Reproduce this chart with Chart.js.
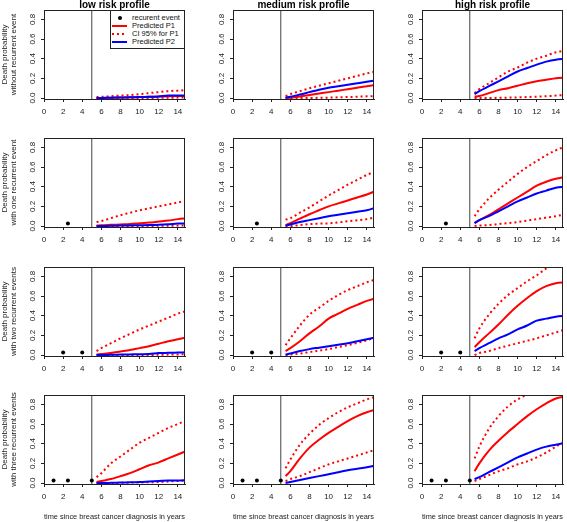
<!DOCTYPE html>
<html>
<head>
<meta charset="utf-8">
<script src="https://cdn.jsdelivr.net/npm/chart.js@4.4.1/dist/chart.umd.min.js"></script>
<style>
  html, body { margin: 0; padding: 0; background: #fff; }
  #fig { position: relative; width: 567px; height: 522px; overflow: hidden;
         font-family: "Liberation Sans", Arial, sans-serif; }
  #fig canvas { position: absolute; }
  .legend { position: absolute; left: 110px; top: 10px; width: 75px; height: 39px;
            box-sizing: border-box; border: 1px solid #222; background: #fff;
            padding-top: 3px; font-size: 7.5px; color: #111; }
  .legend .item { height: 8px; line-height: 8px; display: flex; align-items: center; white-space: nowrap; }
  .legend .sym { width: 15px; height: 8px; margin-left: 1px; margin-right: 5px; position: relative; }
  .sym .ln { position: absolute; left: 0; right: 0; top: 3px; height: 2px; }
  .sym .dot { position: absolute; left: 5.5px; top: 2px; width: 4px; height: 4px; border-radius: 50%; background: #000; }
</style>
</head>
<body>
<div id="fig">
  <div class="legend">
    <div class="item"><span class="sym"><span class="dot"></span></span>recurent event</div>
    <div class="item"><span class="sym"><span class="ln" style="background:red"></span></span>Predicted P1</div>
    <div class="item"><span class="sym"><span class="ln" style="background:repeating-linear-gradient(90deg,red 0 2px,transparent 2px 5px)"></span></span>CI 95% for P1</div>
    <div class="item"><span class="sym"><span class="ln" style="background:blue"></span></span>Predicted P2</div>
  </div>
</div>
<script>
// ---- data ----
const TIME = [5.5, 6, 7, 8, 9, 10, 11, 12, 13, 14, 15];
const X_TICKS = [0, 2, 4, 6, 8, 10, 12, 14];
const Y_TICKS = [0, 0.2, 0.4, 0.6, 0.8];
const PROFILES = ["low risk profile", "medium risk profile", "high risk profile"];
const ROW_LABELS = [
  ["Death probability", "without recurrent event"],
  ["Death probability", "with one recurrent event"],
  ["Death probability", "with two recurrent events"],
  ["Death probability", "with three recurrent events"],
];
const X_TITLE = "time since breast cancer diagnosis in years";
const EVENT_TIMES = [[], [2.5], [2, 4], [1, 2.5, 5]];
const EVENT_Y = 0.025;
const LANDMARK = 5;

// rows: no / one / two / three recurrent events
const P1_LOW = [
  [0, 0, 0.003, 0.005, 0.007, 0.01, 0.012, 0.015, 0.017, 0.02, 0.02],
  [0.005, 0.008, 0.012, 0.016, 0.02, 0.028, 0.035, 0.045, 0.055, 0.07, 0.08],
  [0.005, 0.01, 0.02, 0.035, 0.05, 0.07, 0.09, 0.115, 0.14, 0.16, 0.18],
  [0.01, 0.02, 0.04, 0.07, 0.1, 0.14, 0.18, 0.21, 0.25, 0.29, 0.33],
];
const P2_LOW = [
  [0, 0, 0.003, 0.005, 0.007, 0.01, 0.012, 0.015, 0.025, 0.025, 0.025],
  [0, 0, 0.002, 0.004, 0.006, 0.008, 0.01, 0.013, 0.018, 0.025, 0.027],
  [0, 0, 0.002, 0.004, 0.006, 0.008, 0.01, 0.02, 0.022, 0.025, 0.028],
  [0, 0, 0.002, 0.005, 0.007, 0.01, 0.015, 0.02, 0.025, 0.025, 0.03],
];
const CI_HI_LOW = [
  [0.01, 0.012, 0.018, 0.025, 0.03, 0.04, 0.05, 0.06, 0.07, 0.075, 0.08],
  [0.04, 0.05, 0.08, 0.11, 0.135, 0.16, 0.18, 0.2, 0.22, 0.24, 0.26],
  [0.04, 0.07, 0.12, 0.17, 0.215, 0.26, 0.3, 0.34, 0.38, 0.42, 0.45],
  [0.06, 0.1, 0.2, 0.27, 0.34, 0.41, 0.46, 0.51, 0.56, 0.6, 0.64],
];
const CI_LO_LOW = [
  [0, 0, 0, 0, 0, 0, 0, 0.002, 0.003, 0.004, 0.005],
  [0, 0, 0, 0, 0, 0, 0, 0.002, 0.003, 0.004, 0.005],
  [0, 0, 0, 0, 0, 0, 0, 0.002, 0.004, 0.006, 0.01],
  [0, 0, 0, 0.002, 0.004, 0.006, 0.008, 0.01, 0.015, 0.02, 0.025],
];

const P1_MED = [
  [0, 0.003, 0.015, 0.03, 0.045, 0.06, 0.075, 0.09, 0.105, 0.12, 0.135],
  [0.01, 0.03, 0.075, 0.12, 0.16, 0.2, 0.23, 0.26, 0.29, 0.32, 0.36],
  [0.04, 0.07, 0.14, 0.22, 0.29, 0.37, 0.42, 0.47, 0.51, 0.55, 0.58],
  [0.07, 0.12, 0.25, 0.36, 0.44, 0.51, 0.57, 0.63, 0.68, 0.72, 0.75],
];
const P2_MED = [
  [0.005, 0.012, 0.035, 0.06, 0.085, 0.105, 0.12, 0.135, 0.15, 0.165, 0.18],
  [0.003, 0.015, 0.04, 0.06, 0.08, 0.1, 0.115, 0.13, 0.145, 0.16, 0.19],
  [0.005, 0.015, 0.04, 0.06, 0.075, 0.09, 0.105, 0.12, 0.14, 0.16, 0.18],
  [0, 0.01, 0.03, 0.05, 0.07, 0.09, 0.11, 0.13, 0.145, 0.16, 0.18],
];
const CI_HI_MED = [
  [0.02, 0.04, 0.07, 0.1, 0.125, 0.15, 0.175, 0.2, 0.225, 0.25, 0.27],
  [0.065, 0.08, 0.135, 0.19, 0.25, 0.31, 0.365, 0.42, 0.47, 0.52, 0.56],
  [0.1, 0.17, 0.3, 0.41, 0.48, 0.55, 0.61, 0.66, 0.7, 0.74, 0.77],
  [0.15, 0.24, 0.39, 0.5, 0.59, 0.66, 0.72, 0.77, 0.81, 0.85, 0.88],
];
const CI_LO_MED = [
  [0, 0, 0, 0, 0.002, 0.004, 0.007, 0.01, 0.013, 0.017, 0.02],
  [0, 0, 0.01, 0.02, 0.024, 0.027, 0.037, 0.048, 0.058, 0.07, 0.09],
  [0, 0.005, 0.015, 0.03, 0.045, 0.06, 0.08, 0.1, 0.125, 0.15, 0.19],
  [0.02, 0.04, 0.07, 0.11, 0.15, 0.19, 0.22, 0.25, 0.28, 0.31, 0.34],
];

const P1_HIGH = [
  [0.015, 0.02, 0.05, 0.08, 0.1, 0.125, 0.15, 0.17, 0.185, 0.2, 0.21],
  [0.03, 0.06, 0.11, 0.17, 0.23, 0.29, 0.35, 0.41, 0.45, 0.48, 0.5],
  [0.08, 0.13, 0.22, 0.31, 0.41, 0.5, 0.58, 0.65, 0.7, 0.73, 0.74],
  [0.12, 0.2, 0.33, 0.43, 0.52, 0.6, 0.68, 0.75, 0.81, 0.86, 0.88],
];
const P2_HIGH = [
  [0.04, 0.07, 0.12, 0.17, 0.22, 0.27, 0.305, 0.34, 0.37, 0.39, 0.4],
  [0.03, 0.06, 0.1, 0.15, 0.2, 0.25, 0.29, 0.33, 0.36, 0.39, 0.4],
  [0.04, 0.07, 0.12, 0.17, 0.21, 0.26, 0.3, 0.35, 0.37, 0.39, 0.4],
  [0.04, 0.06, 0.11, 0.16, 0.21, 0.26, 0.3, 0.34, 0.37, 0.39, 0.41],
];
const CI_HI_HIGH = [
  [0.05, 0.09, 0.15, 0.21, 0.27, 0.31, 0.36, 0.4, 0.43, 0.465, 0.48],
  [0.1, 0.17, 0.28, 0.37, 0.45, 0.53, 0.6, 0.66, 0.72, 0.77, 0.81],
  [0.17, 0.27, 0.41, 0.52, 0.61, 0.68, 0.75, 0.81, 0.88, 0.93, 0.97],
  [0.25, 0.37, 0.55, 0.68, 0.78, 0.85, 0.9, 0.94, 0.97, 0.99, 1.0],
];
const CI_LO_HIGH = [
  [0, 0, 0, 0.002, 0.004, 0.006, 0.01, 0.014, 0.018, 0.025, 0.03],
  [0, 0.005, 0.01, 0.02, 0.03, 0.04, 0.055, 0.07, 0.085, 0.1, 0.12],
  [0, 0.02, 0.04, 0.07, 0.095, 0.12, 0.145, 0.17, 0.2, 0.23, 0.26],
  [0.02, 0.04, 0.08, 0.12, 0.15, 0.19, 0.22, 0.26, 0.31, 0.37, 0.42],
];

const SERIES = [
  { p1: P1_LOW, p2: P2_LOW, hi: CI_HI_LOW, lo: CI_LO_LOW },
  { p1: P1_MED, p2: P2_MED, hi: CI_HI_MED, lo: CI_LO_MED },
  { p1: P1_HIGH, p2: P2_HIGH, hi: CI_HI_HIGH, lo: CI_LO_HIGH },
];

// ---- layout ----
const BOX_LEFT = [44, 233, 422];
const BOX_TOP = [10, 138, 267, 395];
const BOX_W = 141, BOX_H = 89;
const Y_AXIS_W = 44, PAD_R = 6, PAD_T = 10;
const X_MIN = 0, X_MAX = 14.75, Y_MIN = -0.01, Y_MAX = 0.895;
const INK = "#222";

Chart.defaults.font.family = '"Liberation Sans", Arial, sans-serif';
Chart.defaults.color = INK;

const boxPlugin = {
  id: "box",
  afterDraw(chart) {
    const { ctx, chartArea: a } = chart;
    ctx.save();
    ctx.strokeStyle = INK;
    ctx.lineWidth = 1;
    ctx.strokeRect(a.left + 0.5, a.top + 0.5, a.width - 1, a.height);
    ctx.restore();
  },
};

const xy = (vals) => vals.map((v, i) => ({ x: TIME[i], y: v }));

function curve(vals, color, dashed) {
  return {
    data: xy(vals),
    borderColor: color,
    borderWidth: 2,
    borderDash: dashed ? [2, 3] : [],
    pointRadius: 0,
    cubicInterpolationMode: "monotone",
  };
}

function makePanel(row, col) {
  const s = SERIES[col];
  const xAxisH = row === 3 ? 38 : 22;
  const canvas = document.createElement("canvas");
  canvas.width = Y_AXIS_W + BOX_W + PAD_R;
  canvas.height = PAD_T + BOX_H + xAxisH;
  canvas.style.left = BOX_LEFT[col] - Y_AXIS_W + "px";
  canvas.style.top = BOX_TOP[row] - PAD_T + "px";
  document.getElementById("fig").insertBefore(canvas, document.querySelector(".legend"));

  // first dataset is drawn on top
  const datasets = [
    {
      data: EVENT_TIMES[row].map((t) => ({ x: t, y: EVENT_Y })),
      showLine: false,
      pointRadius: 2,
      pointBorderWidth: 0,
      backgroundColor: "#000",
      borderColor: "#000",
    },
    curve(s.p2[row], "blue", false),
    curve(s.p1[row], "red", false),
    curve(s.hi[row], "red", true),
    curve(s.lo[row], "red", true),
    {
      data: [{ x: LANDMARK, y: -1 }, { x: LANDMARK, y: 2 }],
      borderColor: "#444",
      borderWidth: 1,
      pointRadius: 0,
    },
  ];

  new Chart(canvas, {
    type: "line",
    data: { datasets },
    options: {
      responsive: false,
      animation: false,
      devicePixelRatio: 1,
      events: [],
      layout: { padding: { top: row === 0 ? 0 : PAD_T, right: PAD_R, left: 0, bottom: 0 } },
      plugins: {
        legend: { display: false },
        tooltip: { enabled: false },
        title: {
          display: row === 0,
          text: PROFILES[col],
          fullSize: false,
          color: "#000",
          font: { size: 10, weight: "bold", lineHeight: 1 },
          padding: 0,
        },
      },
      scales: {
        x: {
          type: "linear",
          min: X_MIN,
          max: X_MAX,
          afterBuildTicks: (sc) => { sc.ticks = X_TICKS.map((v) => ({ value: v })); },
          afterFit: (sc) => { sc.height = xAxisH; },
          grid: { drawOnChartArea: false, drawTicks: true, tickLength: 3, color: INK },
          border: { display: true, color: INK, width: 1 },
          ticks: { font: { size: 8 }, padding: 5, maxRotation: 0, autoSkip: false },
          title: {
            display: row === 3,
            text: X_TITLE,
            font: { size: 8 },
            padding: { top: 0, bottom: 0.5 },
          },
        },
        y: {
          type: "linear",
          min: Y_MIN,
          max: Y_MAX,
          afterBuildTicks: (sc) => { sc.ticks = Y_TICKS.map((v) => ({ value: v })); },
          afterFit: (sc) => { sc.width = Y_AXIS_W; },
          grid: { drawOnChartArea: false, drawTicks: true, tickLength: 3, color: INK },
          border: { display: true, color: INK, width: 1 },
          ticks: {
            font: { size: 8 },
            padding: 3,
            minRotation: 90,
            maxRotation: 90,
            crossAlign: "center",
            autoSkip: false,
            callback: (v) => Number(v).toFixed(1),
          },
          title: {
            display: col === 0,
            text: ROW_LABELS[row],
            font: { size: 8, lineHeight: 1.1 },
            padding: { top: 0.6, bottom: 0 },
          },
        },
      },
    },
    plugins: [boxPlugin],
  });
}

for (let r = 0; r < 4; r++) {
  for (let c = 0; c < 3; c++) makePanel(r, c);
}
</script>
</body>
</html>
